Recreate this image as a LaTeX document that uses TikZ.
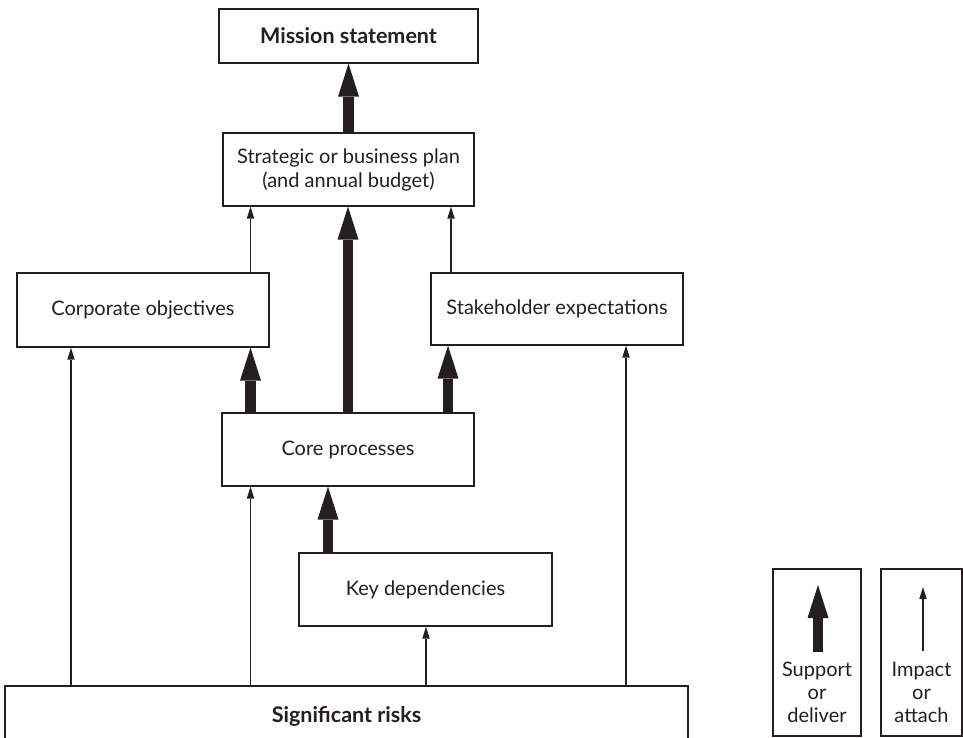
\documentclass[tikz,border=0pt]{standalone}
\usepackage{fontspec}
\setmainfont{Lato}
\definecolor{InkGray}{RGB}{35,31,32}
\usetikzlibrary{arrows.meta, positioning}

\tikzset{
  block/.style={draw=InkGray, line width=1.3pt, fill=white, inner sep=0pt,
                align=center, text=InkGray, font=\fontsize{20}{24}\selectfont},
  bold/.style={font=\fontsize{21.5}{24}\selectfont\bfseries},
  legendtext/.style={align=center, text=InkGray, inner sep=0pt,
                     font=\fontsize{20}{23}\selectfont},
  support/.style={draw=InkGray, line width=10.5pt,
                  -{Triangle[length=33pt, width=21pt, line width=0pt]}},
  impact/.style={draw=InkGray, line width=1.2pt,
                 -{Triangle[length=12pt, width=7.5pt, line width=0pt]}},
}

\begin{document}
\begin{tikzpicture}[x=1pt, y=-1pt]
  \useasboundingbox[fill=white] (0,0) rectangle (963,737);

  % boxes
  \node[block, bold, minimum width=259pt, minimum height=54pt] (mission) at (348.5,36) {Mission statement};
  \node[block, minimum width=251pt, minimum height=73pt] (plan) at (348.5,169.5)
    {Strategic or business plan\\(and annual budget)};
  \node[block, minimum width=252pt, minimum height=74pt] (objectives) at (143,310) {Corporate objectives};
  \node[block, minimum width=252pt, minimum height=72pt] (expectations) at (557,309) {Stakeholder expectations};
  \node[block, minimum width=252pt, minimum height=73pt] (core) at (348,449.5) {Core processes};
  \node[block, minimum width=253pt, minimum height=73pt] (dependencies) at (425.5,589.5) {Key dependencies};
  \node[block, bold, minimum width=683pt, minimum height=60pt] (risks) at (346.5,716) {Significant risks};

  % legend
  \node[block, minimum width=88pt, minimum height=167pt] (legsupport) at (817,652.5) {};
  \node[block, minimum width=81pt, minimum height=167pt] (legimpact) at (921.5,652.5) {};
  \node[legendtext] (legsupporttxt) at (817,692) {Support\\or\\deliver};
  \node[legendtext] (legimpacttxt) at (921.5,692) {Impact\\or\\attach};

  % arrow columns
  \coordinate (colA) at (71,0);
  \coordinate (colB) at (250.5,0);
  \coordinate (colC) at (328,0);
  \coordinate (colE) at (426,0);
  \coordinate (colF) at (448,0);
  \coordinate (colG) at (451,0);
  \coordinate (colH) at (626,0);

  % support or deliver
  \draw[support] (plan) -- (mission);
  \draw[support] (core.north) -- (core.north |- plan.south);
  \draw[support] (core.north -| colB) -- (objectives.south -| colB);
  \draw[support] (core.north -| colF) -- (expectations.south -| colF);
  \draw[support] (dependencies.north -| colC) -- (core.south -| colC);

  % impact or attach
  \draw[impact] (objectives.north -| colB) -- (plan.south -| colB);
  \draw[impact] (expectations.north -| colG) -- (plan.south -| colG);
  \draw[impact] (risks.north -| colA) -- (objectives.south -| colA);
  \draw[impact] (risks.north -| colB) -- (core.south -| colB);
  \draw[impact] (risks.north -| colE) -- (dependencies.south -| colE);
  \draw[impact] (risks.north -| colH) -- (expectations.south -| colH);

  % legend arrows
  \coordinate (legsupportfoot) at (818,652);
  \coordinate (legsupporthead) at (818,585);
  \coordinate (legimpactfoot) at (923,651);
  \coordinate (legimpacthead) at (923,587);
  \draw[support] (legsupportfoot) -- (legsupporthead);
  \draw[impact] (legimpactfoot) -- (legimpacthead);
\end{tikzpicture}
\end{document}
